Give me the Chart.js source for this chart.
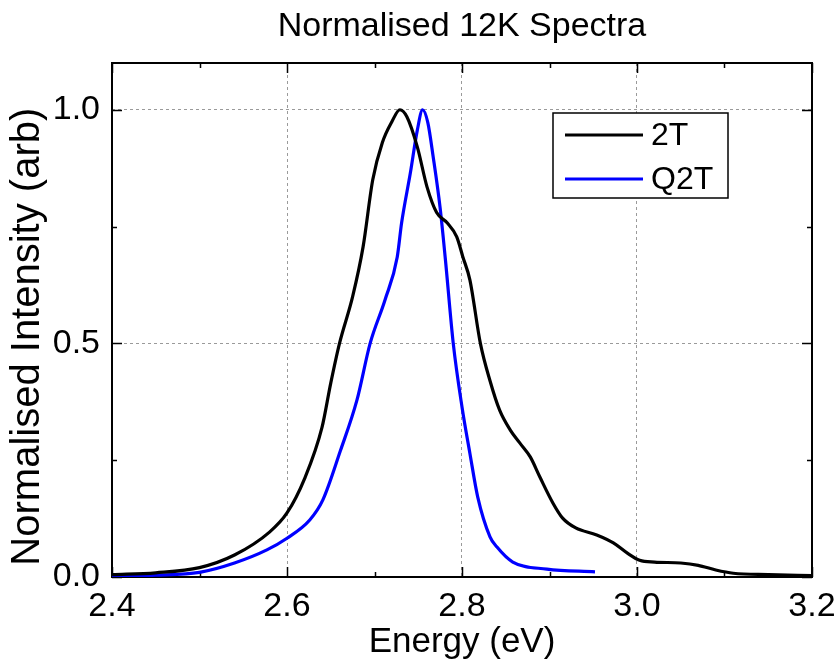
<!DOCTYPE html>
<html>
<head>
<meta charset="utf-8">
<script src="https://cdn.jsdelivr.net/npm/chart.js@4.4.0/dist/chart.umd.min.js"></script>
<style>
  html, body { margin: 0; padding: 0; background: #fff; }
</style>
</head>
<body>
<canvas id="myChart" width="839" height="665"></canvas>
<script>
// 2T spectrum (black)
const energy2T = [2.40, 2.45, 2.50, 2.54, 2.58, 2.60, 2.62, 2.64, 2.65, 2.66, 2.675, 2.687, 2.698,
                  2.709, 2.72, 2.729, 2.737, 2.749, 2.76, 2.771, 2.783, 2.794, 2.801, 2.809, 2.821,
                  2.832, 2.843, 2.855, 2.866, 2.878, 2.889, 2.904, 2.915, 2.93, 2.954, 2.973, 2.989,
                  3.003, 3.02, 3.05, 3.07, 3.09, 3.11, 3.15, 3.20];
const int2T = [0.005, 0.009, 0.02, 0.047, 0.096, 0.137, 0.21, 0.32, 0.415, 0.50, 0.60, 0.707, 0.85,
               0.93, 0.975, 1.0, 0.985, 0.92, 0.835, 0.78, 0.758, 0.728, 0.685, 0.636, 0.50,
               0.42, 0.357, 0.315, 0.287, 0.257, 0.214, 0.158, 0.126, 0.105, 0.09, 0.073, 0.051,
               0.036, 0.032, 0.03, 0.025, 0.015, 0.008, 0.005, 0.003];

// Q2T spectrum (blue)
const energyQ2T = [2.40, 2.45, 2.50, 2.54, 2.577, 2.60, 2.626, 2.641, 2.661, 2.68, 2.695, 2.712,
                   2.726, 2.731, 2.741, 2.749, 2.755, 2.761, 2.767, 2.775, 2.781, 2.79, 2.80,
                   2.809, 2.818, 2.832, 2.84, 2.858, 2.897, 2.952];
const intQ2T = [0.002, 0.004, 0.01, 0.03, 0.058, 0.083, 0.122, 0.165, 0.27, 0.379, 0.50, 0.593,
                0.685, 0.758, 0.865, 0.957, 1.0, 0.972, 0.90, 0.79, 0.68, 0.50, 0.364,
                0.265, 0.171, 0.086, 0.064, 0.032, 0.017, 0.011];

const seriesLabels = ['2T', 'Q2T'];
const seriesColors = ['#000000', '#0000ff'];

const xMajor = [2.4, 2.6, 2.8, 3.0, 3.2];
const yMajor = [0.0, 0.5, 1.0];

const FONT = "'Liberation Sans', Arial, sans-serif";

isMajor = (v, list) => list.some(m => Math.abs(m - v) < 1e-6);
isStep = (v, step) => Math.abs(v / step - Math.round(v / step)) < 1e-6;

toPoints = (xs, ys) => xs.map((x, i) => ({ x: x, y: ys[i] }));

// box around the plot with inward ticks on all four sides
const frameTicks = {
    id: 'frameTicks',
    beforeDatasetsDraw(chart) {
        const { ctx, chartArea: a, scales: { x, y } } = chart;
        ctx.save();
        ctx.strokeStyle = '#000';
        ctx.lineWidth = 1.5;
        ctx.beginPath();
        x.ticks.forEach(t => {
            if (!isStep(t.value, 0.1)) return;
            const px = Math.round(x.getPixelForValue(t.value)) + 0.5;
            const len = isMajor(t.value, xMajor) ? 10 : 5;
            ctx.moveTo(px, a.bottom); ctx.lineTo(px, a.bottom - len);
            ctx.moveTo(px, a.top); ctx.lineTo(px, a.top + len);
        });
        y.ticks.forEach(t => {
            if (!isStep(t.value, 0.25)) return;
            const py = Math.round(y.getPixelForValue(t.value)) + 0.5;
            const len = isMajor(t.value, yMajor) ? 10 : 5;
            ctx.moveTo(a.left, py); ctx.lineTo(a.left + len, py);
            ctx.moveTo(a.right, py); ctx.lineTo(a.right - len, py);
        });
        ctx.stroke();
        ctx.lineWidth = 2;
        ctx.strokeRect(a.left, a.top, a.right - a.left, a.bottom - a.top);
        ctx.restore();
    }
};

// boxed legend inside the plot, top right
const boxLegend = {
    id: 'boxLegend',
    afterDatasetsDraw(chart) {
        const { ctx, chartArea: a } = chart;
        const left = a.left + 441, top = a.top + 50, w = 175, h = 85;
        ctx.save();
        ctx.fillStyle = '#fff';
        ctx.fillRect(left, top, w, h);
        ctx.strokeStyle = '#000';
        ctx.lineWidth = 1.5;
        ctx.strokeRect(left, top, w, h);
        ctx.font = '32px ' + FONT;
        ctx.textBaseline = 'middle';
        chart.data.datasets.forEach((ds, i) => {
            const cy = top + 22 + i * 44;
            ctx.strokeStyle = ds.borderColor;
            ctx.lineWidth = 3;
            ctx.beginPath();
            ctx.moveTo(left + 12, cy);
            ctx.lineTo(left + 90, cy);
            ctx.stroke();
            ctx.fillStyle = '#000';
            ctx.fillText(ds.label, left + 98, cy + 1);
        });
        ctx.restore();
    }
};

const ctx = document.getElementById('myChart').getContext('2d');
new Chart(ctx, {
    type: 'scatter',
    data: {
        datasets: [{
            label: seriesLabels[0],
            data: toPoints(energy2T, int2T),
            borderColor: seriesColors[0],
            backgroundColor: seriesColors[0],
            borderWidth: 3.2,
            showLine: true,
            cubicInterpolationMode: 'monotone'
        }, {
            label: seriesLabels[1],
            data: toPoints(energyQ2T, intQ2T),
            borderColor: seriesColors[1],
            backgroundColor: seriesColors[1],
            borderWidth: 3.2,
            showLine: true,
            cubicInterpolationMode: 'monotone'
        }]
    },
    options: {
        responsive: false,
        animation: false,
        elements: { point: { radius: 0, hoverRadius: 0 } },
        layout: { padding: { left: 0, right: 27, top: 0, bottom: 0 } },
        plugins: {
            legend: { display: false },
            tooltip: { enabled: false },
            title: {
                display: true,
                fullSize: false,
                text: 'Normalised 12K Spectra',
                color: '#000',
                font: { family: FONT, size: 34, weight: 'normal' },
                padding: { top: 6, bottom: 16.2 }
            }
        },
        scales: {
            x: {
                type: 'linear',
                min: 2.4,
                max: 3.2,
                afterFit: s => { s.height = 88; s.paddingLeft = 0; s.paddingRight = 0; },
                border: { display: false, dash: [3, 3] },
                grid: {
                    drawTicks: false,
                    color: c => (c.tick && isMajor(c.tick.value, [2.6, 2.8, 3.0])) ? '#9a9a9a' : 'rgba(0,0,0,0)',
                    lineWidth: 1
                },
                ticks: {
                    stepSize: 0.1,
                    padding: 9,
                    maxRotation: 0,
                    autoSkip: false,
                    color: '#000',
                    font: { family: FONT, size: 34 },
                    callback: v => isMajor(v, xMajor) ? v.toFixed(1) : ''
                },
                title: {
                    display: true,
                    text: 'Energy (eV)',
                    color: '#000',
                    font: { family: FONT, size: 35 },
                    padding: { top: 0, bottom: 2 }
                }
            },
            y: {
                type: 'linear',
                min: 0,
                max: 1.1,
                afterFit: s => { s.width = 112; s.paddingTop = 0; s.paddingBottom = 0; },
                border: { display: false, dash: [3, 3] },
                grid: {
                    drawTicks: false,
                    color: c => (c.tick && isMajor(c.tick.value, [0.5, 1.0])) ? '#9a9a9a' : 'rgba(0,0,0,0)',
                    lineWidth: 1
                },
                ticks: {
                    stepSize: 0.25,
                    padding: 12,
                    autoSkip: false,
                    color: '#000',
                    font: { family: FONT, size: 34 },
                    callback: v => isMajor(v, yMajor) ? v.toFixed(1) : ''
                },
                title: {
                    display: true,
                    text: 'Normalised Intensity (arb)   ',
                    color: '#000',
                    font: { family: FONT, size: 40 },
                    padding: { top: 4, bottom: 0 }
                }
            }
        }
    },
    plugins: [frameTicks, boxLegend]
});
</script>
</body>
</html>
